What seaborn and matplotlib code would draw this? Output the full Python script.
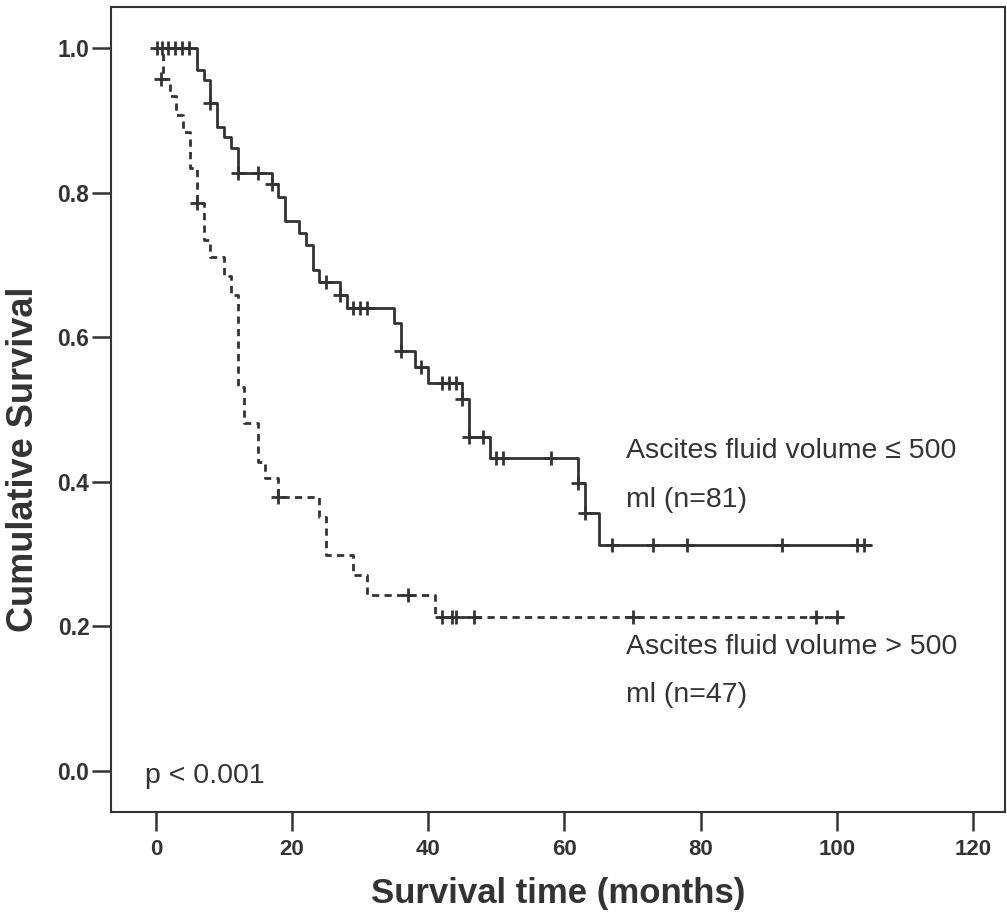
import matplotlib
matplotlib.use("Agg")
import matplotlib.pyplot as plt
import numpy as np
import pandas as pd
import seaborn as sns

# Kaplan-Meier step curves: event times (months) and survival after each step
low_times = [0, 6, 7, 8, 9, 10, 11, 12, 17, 18, 19, 21, 22, 23, 24, 27, 28,
             35, 36, 38, 40, 45, 46, 49, 62, 63, 65, 105]
low_surv = [1.0, 0.970, 0.956, 0.9235, 0.891, 0.877, 0.861, 0.8275, 0.812,
            0.794, 0.761, 0.744, 0.727, 0.693, 0.676, 0.658, 0.640, 0.620,
            0.581, 0.559, 0.537, 0.514, 0.462, 0.433, 0.398, 0.357, 0.313,
            0.313]

high_times = [0, 1, 2, 3, 4, 5, 6, 7, 8, 10, 11, 12, 13, 15, 16, 18, 24, 25,
              29, 31, 41, 101]
high_surv = [1.0, 0.957, 0.933, 0.907, 0.884, 0.834, 0.785, 0.734, 0.7105,
             0.684, 0.658, 0.5315, 0.481, 0.428, 0.405, 0.379, 0.351, 0.299,
             0.271, 0.243, 0.213, 0.213]

# Censored observations (time, survival level)
low_cens_t = [0.1, 0.9, 1.8, 2.8, 3.8, 4.8, 8, 12, 15, 17, 25, 27, 29, 30, 31,
              36, 39, 42, 43, 44, 45, 46, 48, 50, 51, 58, 62, 63, 67, 73, 78,
              92, 103, 104]
low_cens_s = [1.0, 1.0, 1.0, 1.0, 1.0, 1.0, 0.9235, 0.8275, 0.8275, 0.812,
              0.676, 0.658, 0.640, 0.640, 0.640, 0.581, 0.559, 0.537, 0.537,
              0.537, 0.514, 0.462, 0.462, 0.433, 0.433, 0.433, 0.398, 0.357,
              0.313, 0.313, 0.313, 0.313, 0.313, 0.313]

high_cens_t = [0.8, 6, 18, 37, 42, 43.5, 44, 46.7, 70, 97, 100]
high_cens_s = [0.957, 0.785, 0.379, 0.243, 0.213, 0.213, 0.213, 0.213, 0.213,
               0.213, 0.213]

group_low = "Ascites fluid volume ≤ 500 ml (n=81)"
group_high = "Ascites fluid volume > 500 ml (n=47)"

x_ticks = [0, 20, 40, 60, 80, 100, 120]
y_ticks = [0.0, 0.2, 0.4, 0.6, 0.8, 1.0]

ink = "#333333"

curves = pd.concat([
    pd.DataFrame({"time": low_times, "surv": low_surv, "group": group_low}),
    pd.DataFrame({"time": high_times, "surv": high_surv, "group": group_high}),
], ignore_index=True)

censored = pd.concat([
    pd.DataFrame({"time": low_cens_t, "surv": low_cens_s, "group": group_low}),
    pd.DataFrame({"time": high_cens_t, "surv": high_cens_s, "group": group_high}),
], ignore_index=True)

sns.set_theme(style="white")
plt.rcParams["font.family"] = ["Liberation Sans", "DejaVu Sans"]

fig = plt.figure(figsize=(10.07, 9.17), dpi=100)
ax = fig.add_axes([111 / 1007, 1 - 812 / 917, (1005 - 111) / 1007, (812 - 7) / 917])

sns.lineplot(data=curves, x="time", y="surv", hue="group", style="group",
             palette={group_low: ink, group_high: ink},
             dashes={group_low: "", group_high: (2.6, 1.9)},
             estimator=None, sort=False, drawstyle="steps-post",
             linewidth=2.0, legend=False, ax=ax)

sns.scatterplot(data=censored, x="time", y="surv", marker="+", s=110,
                color=ink, linewidth=2.0, legend=False, ax=ax, zorder=3)

ax.set_xlim(-6.6, 124.7)
ax.set_ylim(-0.0567, 1.0567)
ax.set_xticks(x_ticks)
ax.set_yticks(y_ticks)
ax.set_xticklabels([str(v) for v in x_ticks])
ax.set_yticklabels([f"{v:.1f}" for v in y_ticks])

for lab in ax.get_xticklabels():
    lab.set_fontweight("bold")
    lab.set_fontsize(16)
    lab.set_color(ink)
for lab in ax.get_yticklabels():
    lab.set_fontweight("bold")
    lab.set_fontsize(16.5)
    lab.set_color(ink)

ax.tick_params(axis="both", direction="out", length=13.5, width=1.8,
               color=ink, bottom=True, left=True)
ax.tick_params(axis="x", pad=6)
ax.tick_params(axis="y", pad=2)

for sp in ax.spines.values():
    sp.set_color(ink)
    sp.set_linewidth(1.5)

ax.set_xlabel("Survival time (months)", fontweight="bold",
              fontsize=25, color=ink, labelpad=12)
ax.set_ylabel("Cumulative Survival", fontweight="bold",
              fontsize=26, color=ink)
# the y title sits a little below the middle of the frame
ax.yaxis.set_label_coords(-0.078, (812 - 459) / (812 - 7))

txt = dict(fontsize=20.5, color=ink, va="center", ha="left")
ax.text(69.0, 0.4426, "Ascites fluid volume ≤ 500", **txt)
ax.text(69.0, 0.375, "ml (n=81)", **txt)
ax.text(69.0, 0.1715, "Ascites fluid volume > 500", **txt)
ax.text(69.0, 0.105, "ml (n=47)", **txt)
ax.text(-1.6, -0.007, "p < 0.001", **txt)

fig.savefig("out.png", dpi=100)
